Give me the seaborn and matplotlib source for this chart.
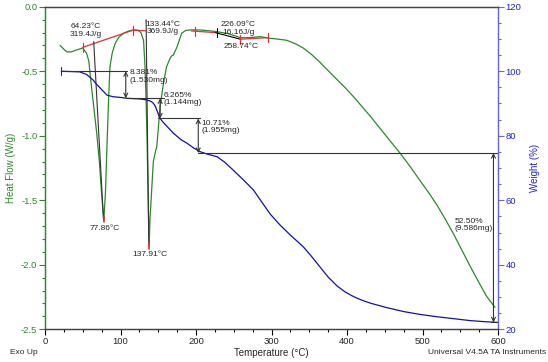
import numpy as np
import pandas as pd
import seaborn as sns
import matplotlib.pyplot as plt
from matplotlib.ticker import MultipleLocator

# DSC heat flow curve (W/g)
hf_temp = [20, 25, 29, 35, 42, 50, 55, 58, 61, 65, 68.5, 72, 75, 77.86, 80, 82, 84, 86, 89,
           93, 98, 104, 110, 117, 123, 127, 130.5, 132.5, 134, 135, 136.5, 137.91, 139, 141,
           143.5, 146, 148, 150, 152.4, 157, 161, 165.7, 168, 170, 175, 181, 186, 192, 205,
           223, 241, 258.7, 270, 285, 298, 307, 320, 331, 342, 353, 364, 375, 386, 398, 409,
           420, 431, 442, 453, 462, 470.5, 480, 488, 497, 508, 519, 530, 541, 552, 563, 574,
           585, 596]
hf_vals = [-0.30, -0.33, -0.35, -0.35, -0.335, -0.32, -0.36, -0.42, -0.59, -0.80, -0.98, -1.20,
           -1.45, -1.655, -1.45, -1.10, -0.75, -0.465, -0.36, -0.284, -0.235, -0.206, -0.19,
           -0.18, -0.182, -0.20, -0.26, -0.465, -0.75, -0.98, -1.45, -1.86, -1.65, -1.45, -1.20,
           -1.13, -1.085, -0.95, -0.775, -0.59, -0.465, -0.40, -0.38, -0.375, -0.31, -0.206,
           -0.185, -0.18, -0.18, -0.19, -0.206, -0.24, -0.24, -0.232, -0.245, -0.25, -0.26,
           -0.285, -0.32, -0.37, -0.43, -0.495, -0.56, -0.63, -0.70, -0.775, -0.85, -0.93,
           -1.01, -1.075, -1.137, -1.21, -1.275, -1.35, -1.44, -1.535, -1.645, -1.76, -1.885,
           -2.01, -2.13, -2.245, -2.33]

# TGA weight curve (%)
wt_temp = [21.6, 46, 55, 63.6, 68, 73, 78, 82, 90, 99, 109, 126, 135, 140, 143, 146, 148, 150,
           152, 156, 160, 170, 180, 188, 197, 205, 215, 228, 238, 249, 262, 276, 287, 298, 311,
           325, 342, 353, 364, 375, 387, 398, 409, 420, 431, 453, 475, 497, 519, 541, 563, 580,
           594, 600]
wt_vals = [100, 99.8, 99.0, 97.3, 96.0, 94.8, 93.6, 92.6, 92.1, 91.9, 91.6, 91.4, 91.1, 90.7,
           90.2, 89.2, 88.0, 86.8, 85.5, 84.3, 83.3, 80.8, 78.8, 77.7, 76.2, 75.1, 74.3, 73.5,
           71.8, 69.4, 66.5, 63.2, 59.5, 55.8, 52.4, 49.2, 45.6, 42.6, 39.4, 36.2, 33.4, 31.5,
           30.1, 29.0, 28.1, 26.7, 25.5, 24.6, 23.9, 23.3, 22.7, 22.4, 22.2, 22.14]

# weight-loss steps: arrow temperature, upper %, lower %, shelf line start/end, label
step_x = [107, 152.5, 203, 594]
step_hi = [100, 91.62, 85.35, 74.64]
step_lo = [91.62, 85.35, 74.64, 22.14]
step_x0 = [21.6, 107, 150, 203]
step_x1 = [108, 157, 205, 600]
step_labels = ["8.381%\n(1.530mg)", "6.265%\n(1.144mg)", "10.71%\n(1.955mg)", "52.50%\n(9.586mg)"]
step_lab_pos = [(111.7, -0.539), (157.5, -0.714), (207.7, -0.934), (542.5, -1.69)]

green = "#2a8a2a"
blue = "#1010b0"
red = "#e03030"
dark = "#333333"
rblue = "#2020e0"
rspine = "#6a6ac8"

sns.set_style("ticks")
plt.rcParams["font.family"] = ["Liberation Sans", "DejaVu Sans"]

fig = plt.figure(figsize=(5.48, 3.62), dpi=100)
ax = fig.add_axes([45 / 548, 1 - 329.3 / 362, 453 / 548, 322.6 / 362])
ax2 = ax.twinx()

df_hf = pd.DataFrame({"T": hf_temp, "HF": hf_vals})
df_wt = pd.DataFrame({"T": wt_temp, "W": wt_vals})
sns.lineplot(data=df_hf, x="T", y="HF", ax=ax, color=green, lw=0.9, estimator=None)
sns.lineplot(data=df_wt, x="T", y="W", ax=ax2, color=blue, lw=0.9, estimator=None)

ax.set_xlim(0, 600)
ax.set_ylim(-2.5, 0.0)
ax2.set_ylim(20, 120)

# peak integration marks on heat flow
ax.plot([50, 117, 133.4], [-0.315, -0.181, -0.187], color=red, lw=0.9)
ax.plot([194, 226], [-0.188, -0.201], color=red, lw=0.9)
ax.plot([226, 258.7], [-0.201, -0.252], color="black", lw=0.8)
ax.plot([258.7, 295], [-0.252, -0.24], color=red, lw=0.9)
for tx, ty in [(50, -0.315), (117, -0.181), (199, -0.19), (258.7, -0.252), (295, -0.24)]:
    ax.plot([tx, tx], [ty - 0.035, ty + 0.035], color=red, lw=0.9)
ax.plot([227.5, 227.5], [-0.236, -0.166], color="black", lw=0.8)
ax.plot([64.5, 77.5], [-0.27, -1.65], color=dark, lw=0.8)
ax.plot([133.9, 137.5], [-0.10, -1.84], color=dark, lw=0.8)
ax.plot([77.86, 77.86], [-1.62, -1.67], color=red, lw=1.2)
ax.plot([137.91, 137.91], [-1.82, -1.875], color=red, lw=1.2)

fs = 6
ax.text(53.7, -0.183, "64.23°C\n319.4J/g", ha="center", va="center", fontsize=fs, linespacing=1.1)
ax.text(156.5, -0.165, "133.44°C\n369.9J/g", ha="center", va="center", fontsize=fs, linespacing=1.1)
ax.text(255.8, -0.17, "226.09°C\n16.16J/g", ha="center", va="center", fontsize=fs, linespacing=1.1)
ax.text(259.5, -0.305, "258.74°C", ha="center", va="center", fontsize=fs)
ax.text(79.5, -1.716, "77.86°C", ha="center", va="center", fontsize=fs)
ax.text(139.2, -1.917, "137.91°C", ha="center", va="center", fontsize=fs)

# weight-loss step annotations
ax2.plot([21.6, 21.6], [98.8, 101.2], color=dark, lw=0.8)
for x, hi, lo, x0, x1, lab, pos in zip(step_x, step_hi, step_lo, step_x0, step_x1,
                                       step_labels, step_lab_pos):
    ax2.plot([x0, x1], [hi, hi], color=dark, lw=0.8)
    ax2.annotate("", xy=(x, lo), xytext=(x, hi),
                 arrowprops=dict(arrowstyle="<->", color=dark, lw=0.8,
                                 mutation_scale=7, shrinkA=0, shrinkB=0))
    ax.text(pos[0], pos[1], lab, ha="left", va="center", fontsize=fs, linespacing=1.1)
ax2.plot([step_x[-1] - 3, 600], [step_lo[-1], step_lo[-1]], color=dark, lw=0.8)

# axes styling
ax.xaxis.set_major_locator(MultipleLocator(100))
ax.xaxis.set_minor_locator(MultipleLocator(25))
ax.yaxis.set_major_locator(MultipleLocator(0.5))
ax.yaxis.set_minor_locator(MultipleLocator(0.1))
ax2.yaxis.set_major_locator(MultipleLocator(20))
ax2.yaxis.set_minor_locator(MultipleLocator(5))
ax.yaxis.set_major_formatter(plt.FuncFormatter(lambda v, p: f"{v:.1f}"))

tl = 6.8
ax.tick_params(axis="x", which="major", length=4, width=0.8, labelsize=tl, pad=1.5, color="black")
ax.tick_params(axis="x", which="minor", length=2.5, width=0.8, color="black")
ax.tick_params(axis="y", which="major", length=4, width=0.8, labelsize=tl, pad=1.5,
               colors=green)
ax.tick_params(axis="y", which="minor", length=2.5, width=0.8, color=green)
ax2.tick_params(axis="y", which="major", length=4, width=0.8, labelsize=tl, pad=1.5,
                color=rspine, labelcolor=rblue)
ax2.tick_params(axis="y", which="minor", length=2.5, width=0.8, color=rspine)

for a in (ax, ax2):
    for s in a.spines.values():
        s.set_linewidth(0.9)
        s.set_color("#444444")
    a.spines["left"].set_color(green)
    a.spines["right"].set_color(rspine)

ax.set_xlabel("Temperature (°C)", fontsize=7)
ax.xaxis.set_label_coords(0.5, -0.058)
ax.set_ylabel("Heat Flow (W/g)", fontsize=7, color=green)
ax.yaxis.set_label_coords(-0.063, 0.5)
ax2.set_ylabel("Weight (%)", fontsize=7, color=rblue)
ax2.yaxis.set_label_coords(1.07, 0.5)

fig.text(10 / 548, 1 - 352 / 362, "Exo Up", fontsize=6, ha="left", va="center")
fig.text(546 / 548, 1 - 352 / 362, "Universal V4.5A TA Instruments", fontsize=6,
         ha="right", va="center")

fig.savefig("out.png", dpi=100)
